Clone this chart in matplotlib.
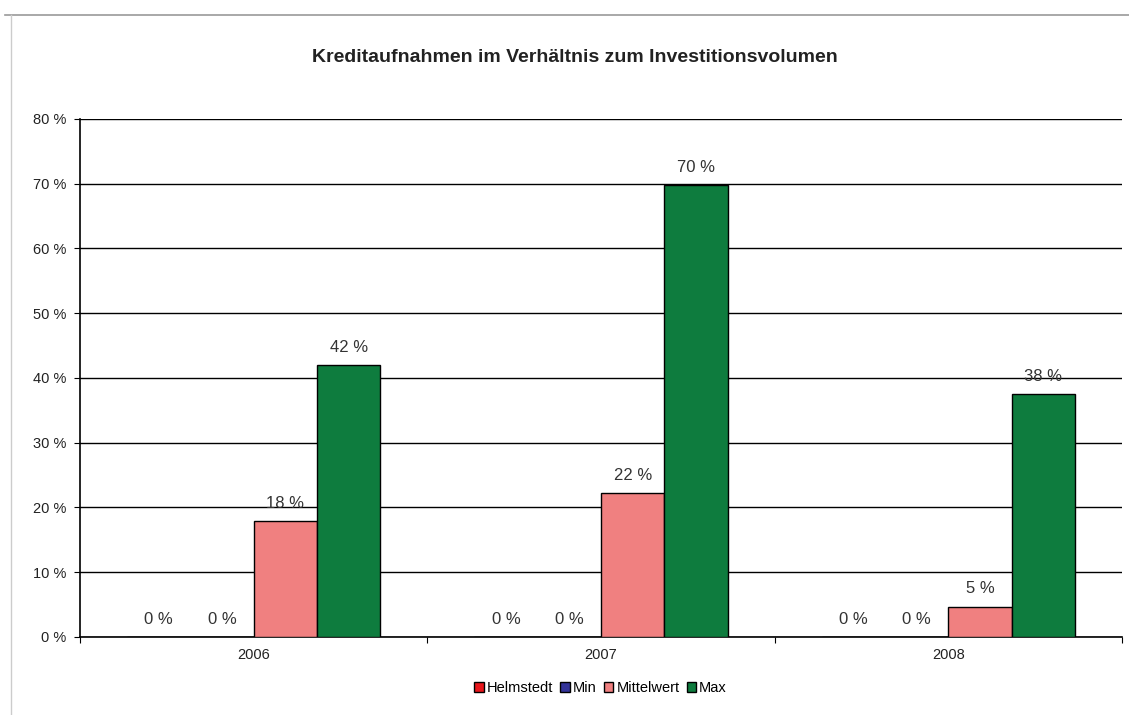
import matplotlib.pyplot as plt
from matplotlib.lines import Line2D
from matplotlib.patches import Patch
import numpy as np

plt.rcParams["font.family"] = ["Liberation Sans", "DejaVu Sans"]

# Chart data
years = ["2006", "2007", "2008"]
series_names = ["Helmstedt", "Min", "Mittelwert", "Max"]
helmstedt = [0.0, 0.0, 0.0]
minimum = [0.0, 0.0, 0.0]
mittelwert = [17.9, 22.2, 4.7]
maximum = [42.0, 69.8, 37.5]
label_values = [[0, 0, 0], [0, 0, 0], [18, 22, 5], [42, 70, 38]]
y_ticks = [0, 10, 20, 30, 40, 50, 60, 70, 80]

colors = ["#E8161B", "#333399", "#F08080", "#0E7C3E"]

fig = plt.figure(figsize=(11.29, 7.15), dpi=100)
ax = fig.add_axes([0.0709, 0.1091, 0.9229, 0.7245])

x = np.arange(len(years))
width = 0.1825
all_series = [helmstedt, minimum, mittelwert, maximum]

for i, (vals, name, col) in enumerate(zip(all_series, series_names, colors)):
    offset = (i - 1.5) * width
    ax.bar(x + offset, vals, width, color=col, edgecolor="black",
           linewidth=1, label=name, zorder=3)
    for xi, v, lab in zip(x, vals, label_values[i]):
        ax.text(xi + offset, v + 1.6, f"{lab} %", ha="center", va="bottom",
                fontsize=12, color="#333333", zorder=4)

ax.set_xlim(-0.5, 2.5)
ax.set_ylim(0, 80)
ax.set_yticks(y_ticks)
ax.set_yticklabels([f"{t} %" for t in y_ticks], fontsize=10.5, color="#222222")
ax.yaxis.grid(True, color="black", linewidth=1, zorder=0)
ax.set_axisbelow(True)

# category labels centered, ticks on category boundaries
ax.set_xticks([-0.5, 0.5, 1.5, 2.5])
ax.set_xticklabels([])
ax.set_xticks(x, minor=True)
ax.set_xticklabels(years, minor=True, fontsize=10.5, color="#222222")
ax.tick_params(axis="x", which="minor", length=0, pad=8)
ax.tick_params(axis="x", which="major", length=4, direction="out", color="black")
ax.tick_params(axis="y", length=4, direction="out", pad=6)

for side in ["top", "right"]:
    ax.spines[side].set_visible(False)
ax.spines["left"].set_linewidth(1.2)
ax.spines["bottom"].set_linewidth(1.2)

fig.text(0.509, 0.920, "Kreditaufnahmen im Verhältnis zum Investitionsvolumen",
         ha="center", va="center", fontsize=14, fontweight="bold", color="#222222")

handles = [Patch(facecolor=c, edgecolor="black", linewidth=1) for c in colors]
fig.legend(handles, series_names, loc="center", bbox_to_anchor=(0.532, 0.038),
           ncol=4, frameon=False, fontsize=10.5, handlelength=0.65, handleheight=0.65,
           handletextpad=0.2, columnspacing=0.5)

# outer chart area border (partially visible)
fig.add_artist(Line2D([0.004, 1.0], [1 - 15 / 715] * 2, transform=fig.transFigure,
                      color="#999999", linewidth=1.2))
fig.add_artist(Line2D([11 / 1129] * 2, [0.0, 1 - 15 / 715], transform=fig.transFigure,
                      color="#cccccc", linewidth=1.0))

fig.savefig("out.png", dpi=100)
